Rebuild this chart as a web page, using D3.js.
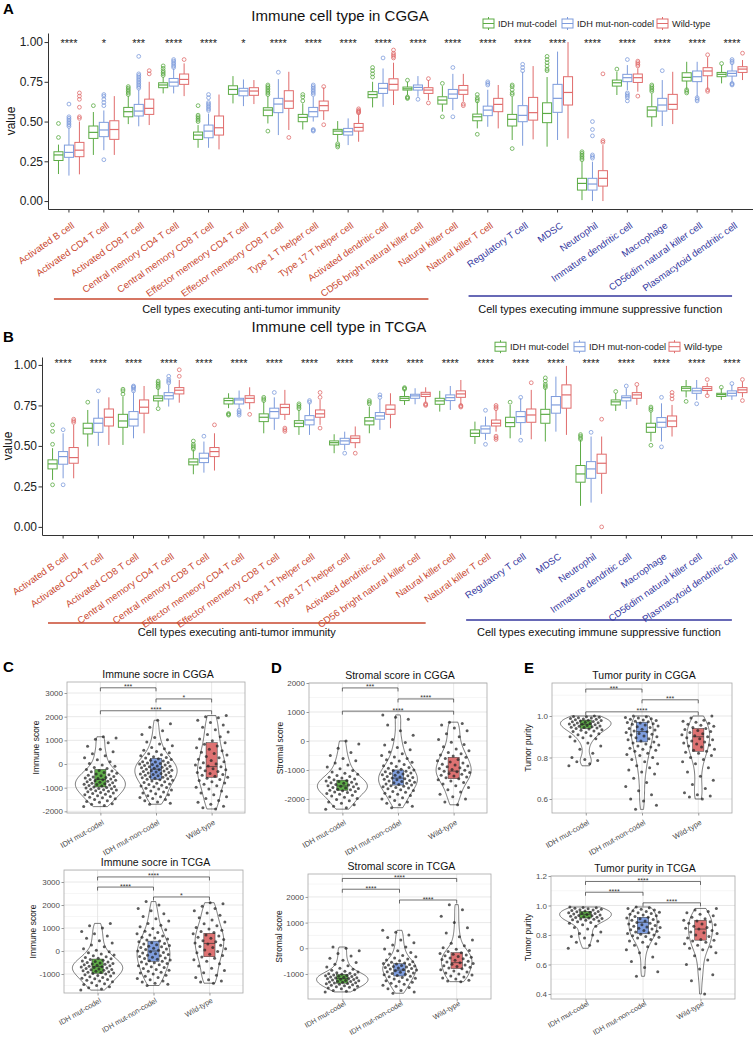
<!DOCTYPE html>
<html><head><meta charset="utf-8">
<script src="https://cdn.jsdelivr.net/npm/d3@7"></script>
<style>body{margin:0;background:#fff} svg{font-family:"Liberation Sans",Arial,sans-serif}</style>
</head><body><svg id="c" width="753" height="1041"></svg>
<script>
// ---------------- DATA ----------------
const cellTypes = ["Activated B cell","Activated CD4 T cell","Activated CD8 T cell","Central memory CD4 T cell","Central memory CD8 T cell","Effector memeory CD4 T cell","Effector memeory CD8 T cell","Type 1 T helper cell","Type 17 T helper cell","Activated dendritic cell","CD56 bright natural killer cell","Natural killer cell","Natural killer T cell","Regulatory T cell","MDSC","Neutrophil","Immature dendritic cell","Macrophage","CD56dim natural killer cell","Plasmacytoid dendritic cell"];
const antiTumorCount = 13;
const groupNames = ["IDH mut-codel","IDH mut-non-codel","Wild-type"];
const valueTicks = [0,0.25,0.5,0.75,1];
const cggaStars = ["****","*","***","****","****","*","****","****","****","****","****","****","****","****","****","****","****","****","****","****"];
const tcgaStars = ["****","****","****","****","****","****","****","****","****","****","****","****","****","****","****","****","****","****","****","****"];

// [lower whisker, Q1, median, Q3, upper whisker]
const cggaCodel = [[0.17,0.255,0.29,0.31,0.355],[0.29,0.394,0.432,0.472,0.56],[0.484,0.53,0.562,0.589,0.66],[0.677,0.713,0.73,0.744,0.78],[0.335,0.388,0.415,0.434,0.478],[0.614,0.671,0.702,0.725,0.786],[0.488,0.537,0.572,0.587,0.66],[0.45,0.499,0.526,0.545,0.614],[0.373,0.419,0.44,0.451,0.503],[0.589,0.65,0.67,0.688,0.75],[0.667,0.698,0.706,0.717,0.75],[0.562,0.61,0.635,0.656,0.723],[0.457,0.505,0.53,0.547,0.625],[0.384,0.472,0.514,0.545,0.656],[0.342,0.493,0.551,0.618,0.78],[0.006,0.069,0.111,0.143,0.247],[0.667,0.723,0.744,0.761,0.813],[0.467,0.53,0.572,0.593,0.677],[0.702,0.755,0.778,0.807,0.876],[0.74,0.782,0.797,0.809,0.855]];
const cggaCodelOut = [[0.40,0.488],[0.60],[0.67,0.68,0.69,0.70,0.71,0.72],[0.79,0.80,0.81,0.82,0.835,0.85],[0.50,0.51,0.52,0.53,0.54,0.60],[],[0.44,0.67,0.68,0.69,0.70,0.71,0.72,0.73],[0.63,0.655,0.67],[0.34,0.35,0.36],[0.78,0.80,0.82,0.84],[0.645,0.65,0.655,0.76],[0.53,0.74],[0.42,0.63,0.64,0.65,0.67],[0.33,0.67,0.68,0.70,0.72,0.73],[0.82,0.83,0.85,0.87,0.89,0.91],[0.26,0.27,0.28,0.29,0.30,0.31],[0.83],[0.69,0.70,0.71,0.72,0.73],[0.68,0.69,0.70],[0.865]];
const cggaNonCodel = [[0.16,0.275,0.306,0.352,0.46],[0.32,0.405,0.447,0.495,0.57],[0.47,0.535,0.566,0.608,0.70],[0.677,0.723,0.748,0.771,0.834],[0.335,0.398,0.44,0.478,0.55],[0.597,0.662,0.692,0.709,0.765],[0.415,0.556,0.61,0.646,0.767],[0.50,0.53,0.562,0.589,0.656],[0.352,0.415,0.436,0.457,0.52],[0.593,0.677,0.709,0.74,0.834],[0.656,0.698,0.715,0.73,0.786],[0.572,0.646,0.673,0.702,0.80],[0.467,0.537,0.572,0.597,0.70],[0.348,0.499,0.539,0.60,0.813],[0.384,0.558,0.646,0.734,0.94],[0.0,0.069,0.107,0.143,0.247],[0.698,0.751,0.776,0.797,0.855],[0.472,0.566,0.604,0.646,0.761],[0.656,0.751,0.782,0.818,0.876],[0.75,0.786,0.803,0.818,0.865]];
const cggaNonCodelOut = [[0.47,0.48,0.49,0.50,0.51,0.52,0.53,0.61],[0.26,0.60,0.62,0.64,0.66,0.67],[0.71,0.72,0.73,0.74,0.75,0.76,0.77,0.78,0.79,0.80,0.91],[0.84,0.85,0.86,0.87,0.88,0.89],[0.57,0.58,0.59,0.60,0.61,0.62,0.65,0.67],[],[0.81],[0.44,0.445,0.45,0.67,0.68,0.69,0.70,0.71,0.72,0.73],[],[0.90],[0.64],[0.53,0.84],[0.73,0.74,0.75],[0.82,0.84,0.86],[],[0.27,0.28,0.29,0.41,0.45,0.50],[0.63,0.65,0.66,0.67,0.68,0.89],[0.82],[0.63,0.64,0.65],[0.73,0.735,0.74,0.87,0.88,0.89]];
const cggaWild = [[0.168,0.279,0.32,0.369,0.50],[0.29,0.388,0.45,0.505,0.66],[0.478,0.545,0.583,0.641,0.75],[0.66,0.734,0.765,0.799,0.866],[0.325,0.415,0.461,0.535,0.67],[0.61,0.665,0.692,0.713,0.761],[0.447,0.583,0.629,0.694,0.813],[0.51,0.568,0.60,0.629,0.715],[0.373,0.44,0.463,0.488,0.55],[0.604,0.698,0.734,0.769,0.87],[0.635,0.677,0.698,0.713,0.761],[0.625,0.671,0.698,0.727,0.80],[0.457,0.562,0.608,0.646,0.73],[0.388,0.509,0.556,0.652,0.849],[0.394,0.604,0.683,0.782,1.0],[0.0,0.094,0.143,0.191,0.352],[0.688,0.746,0.776,0.799,0.835],[0.484,0.577,0.608,0.671,0.813],[0.702,0.788,0.818,0.839,0.905],[0.761,0.809,0.83,0.845,0.887]];
const cggaWildOut = [[0.52,0.53,0.59,0.64,0.66,0.68],[],[0.80,0.82],[0.89],[],[],[0.40],[0.48,0.72],[0.555,0.56,0.565,0.57,0.58],[0.90,0.91,0.92,0.93,0.95],[0.617,0.77],[0.60,0.61],[],[],[],[0.37,0.38,0.80],[0.66,0.85,0.86,0.87,0.88],[],[0.69,0.70,0.92],[0.93]];

const tcgaCodel = [[0.29,0.358,0.389,0.414,0.486],[0.496,0.574,0.609,0.64,0.722],[0.506,0.615,0.654,0.695,0.805],[0.743,0.778,0.794,0.809,0.856],[0.325,0.383,0.401,0.42,0.475],[0.733,0.759,0.78,0.794,0.825],[0.578,0.65,0.677,0.698,0.774],[0.568,0.619,0.64,0.656,0.722],[0.455,0.506,0.52,0.531,0.572],[0.578,0.63,0.654,0.675,0.743],[0.753,0.78,0.794,0.805,0.846],[0.712,0.757,0.778,0.794,0.84],[0.512,0.558,0.578,0.599,0.65],[0.547,0.619,0.644,0.677,0.753],[0.527,0.64,0.695,0.726,0.856],[0.13,0.276,0.327,0.379,0.537],[0.716,0.753,0.772,0.784,0.825],[0.527,0.584,0.615,0.64,0.712],[0.80,0.84,0.856,0.866,0.907],[0.784,0.805,0.817,0.825,0.856]];
const tcgaCodelOut = [[0.26,0.51,0.59,0.63],[0.77],[0.82,0.84,0.85],[0.73,0.86,0.87,0.88,0.89,0.90],[0.48,0.49,0.50,0.51,0.53],[0.69,0.695,0.70],[0.78,0.79,0.80],[0.73,0.74,0.75,0.76],[],[0.76,0.77,0.78],[0.85,0.855,0.86],[],[],[0.77],[0.86,0.87,0.88,0.90,0.92],[0.54,0.55,0.56,0.57],[0.836],[0.504,0.72,0.73,0.74],[0.775],[0.862]];
const tcgaNonCodel = [[0.30,0.387,0.434,0.465,0.578],[0.50,0.584,0.64,0.671,0.788],[0.547,0.623,0.665,0.712,0.83],[0.743,0.79,0.81,0.829,0.877],[0.335,0.397,0.424,0.455,0.527],[0.733,0.759,0.784,0.794,0.842],[0.599,0.671,0.712,0.733,0.80],[0.568,0.63,0.66,0.687,0.763],[0.475,0.51,0.531,0.547,0.588],[0.599,0.665,0.685,0.706,0.79],[0.757,0.794,0.809,0.819,0.856],[0.722,0.78,0.798,0.815,0.87],[0.537,0.578,0.605,0.623,0.681],[0.568,0.644,0.681,0.712,0.794],[0.588,0.702,0.753,0.805,0.928],[0.15,0.30,0.358,0.403,0.558],[0.728,0.778,0.798,0.809,0.856],[0.527,0.615,0.646,0.675,0.763],[0.784,0.825,0.84,0.856,0.907],[0.784,0.809,0.825,0.84,0.877]];
const tcgaNonCodelOut = [[0.26,0.60],[0.84],[0.84,0.85,0.86,0.865,0.87],[0.89,0.90,0.91,0.93],[0.56],[0.69,0.70,0.71,0.72],[0.83],[0.77,0.78],[0.455],[0.80,0.815],[],[],[0.51,0.72],[0.535,0.80],[],[0.584],[0.87],[0.494,0.80],[0.76],[0.885]];
const tcgaWild = [[0.30,0.393,0.428,0.49,0.63],[0.506,0.623,0.677,0.728,0.80],[0.578,0.702,0.739,0.784,0.87],[0.767,0.821,0.844,0.86,0.907],[0.348,0.434,0.465,0.49,0.578],[0.726,0.767,0.794,0.81,0.862],[0.66,0.695,0.737,0.757,0.846],[0.63,0.677,0.698,0.722,0.784],[0.486,0.52,0.547,0.562,0.62],[0.609,0.695,0.726,0.753,0.825],[0.767,0.805,0.819,0.831,0.862],[0.753,0.80,0.821,0.84,0.907],[0.588,0.623,0.64,0.66,0.722],[0.541,0.646,0.691,0.728,0.846],[0.568,0.733,0.815,0.877,0.994],[0.204,0.331,0.393,0.449,0.558],[0.753,0.794,0.815,0.829,0.87],[0.558,0.619,0.654,0.685,0.753],[0.815,0.842,0.854,0.866,0.89],[0.80,0.829,0.846,0.86,0.897]];
const tcgaWildOut = [[0.645,0.655,0.665],[],[],[0.93,0.97],[0.63],[0.695],[0.59,0.60,0.61],[0.61,0.80,0.83],[0.455],[],[0.75,0.755,0.76],[0.74,0.745,0.75],[0.54,0.55,0.56,0.73,0.74,0.75],[0.89],[],[0.0,0.665],[0.88],[0.79,0.81,0.83],[0.81,0.91],[0.78,0.91]];

// Panels C-E: sample points per group (codel, non-codel, wild-type), box [Q1, median, Q3], significance [label, from, to, level]
const immuneCggaPts = [
 [-1800,-1750,-1700,-1680,-1620,-1580,-1550,-1500,-1470,-1430,-1400,-1370,-1340,-1300,-1280,-1250,-1220,-1200,-1170,-1150,-1130,-1100,-1090,-1070,-1050,-1030,-1010,-990,-970,-950,-930,-910,-890,-870,-850,-830,-810,-790,-770,-750,-730,-710,-690,-670,-650,-630,-610,-590,-570,-550,-530,-500,-480,-450,-420,-390,-360,-330,-300,-270,-230,-190,-150,-100,-40,20,100,180,260,350,430,520,620,750,900,1050,1100,1150],
 [-1700,-1660,-1600,-1550,-1500,-1460,-1420,-1380,-1340,-1300,-1260,-1220,-1180,-1140,-1100,-1060,-1020,-990,-960,-930,-900,-870,-840,-810,-780,-750,-720,-690,-660,-640,-620,-600,-580,-560,-540,-520,-500,-480,-460,-440,-420,-400,-380,-360,-340,-320,-300,-280,-260,-240,-220,-200,-180,-160,-140,-120,-100,-80,-60,-40,-20,0,20,40,60,80,100,130,160,190,220,250,280,310,350,390,430,480,530,580,640,700,770,850,930,1020,1120,1250,1400,1550,1700,1850],
 [-1900,-1850,-1780,-1700,-1620,-1540,-1460,-1380,-1300,-1220,-1140,-1060,-980,-920,-860,-800,-750,-700,-650,-600,-560,-520,-480,-440,-400,-360,-320,-280,-240,-200,-160,-120,-80,-40,0,50,100,150,200,260,320,380,440,500,560,620,690,760,830,900,980,1060,1150,1250,1350,1450,1550,1650,1750,1850,1950,2000,2050]];
const immuneCggaBox = [[-970,-650,-230],[-650,-220,240],[-560,-110,900]];
const immuneCggaSig = [["***",0,1,3220],["*",1,2,2750],["****",0,2,2250]];

const immuneTcgaPts = [
 [-1700,-1650,-1600,-1550,-1500,-1460,-1420,-1380,-1340,-1300,-1270,-1240,-1210,-1180,-1150,-1120,-1090,-1060,-1030,-1000,-980,-960,-940,-920,-900,-880,-860,-840,-820,-800,-780,-760,-740,-720,-700,-680,-660,-640,-620,-600,-580,-560,-540,-520,-500,-480,-460,-430,-400,-370,-340,-310,-280,-250,-210,-170,-130,-80,-30,30,100,180,260,350,450,550,650,750,850,1000,1100,1200],
 [-1500,-1450,-1400,-1350,-1300,-1250,-1200,-1150,-1100,-1050,-1000,-960,-920,-880,-840,-800,-760,-720,-680,-640,-600,-570,-540,-510,-480,-450,-420,-390,-360,-330,-300,-270,-240,-210,-180,-150,-120,-90,-60,-30,0,30,60,90,120,150,180,210,240,270,300,330,360,400,440,480,520,560,600,650,700,750,800,860,920,980,1050,1120,1200,1300,1400,1500,1620,1750,1850,2000,2150],
 [-1400,-1350,-1300,-1250,-1150,-1050,-950,-850,-750,-650,-550,-450,-380,-320,-260,-200,-140,-80,-20,40,100,150,200,250,300,350,400,450,500,550,600,650,700,750,800,850,900,960,1020,1100,1180,1260,1350,1450,1550,1650,1750,1850,1950,2050,2100]];
const immuneTcgaBox = [[-970,-680,-350],[-450,0,430],[-250,330,770]];
const immuneTcgaSig = [["****",0,2,3220],["****",0,1,2780],["*",1,2,2350]];

const stromalCggaPts = [
 [-2350,-2300,-2250,-2200,-2150,-2100,-2060,-2020,-1980,-1940,-1900,-1870,-1840,-1810,-1780,-1760,-1740,-1720,-1700,-1680,-1660,-1640,-1620,-1600,-1580,-1560,-1540,-1520,-1500,-1480,-1460,-1440,-1420,-1400,-1380,-1360,-1340,-1310,-1280,-1250,-1220,-1190,-1150,-1110,-1070,-1020,-960,-900,-830,-760,-680,-600,-500,-400,-250,-100,0],
 [-2300,-2250,-2200,-2150,-2100,-2050,-2000,-1960,-1920,-1880,-1840,-1800,-1770,-1740,-1710,-1680,-1650,-1620,-1600,-1580,-1560,-1540,-1520,-1500,-1480,-1460,-1440,-1420,-1400,-1380,-1360,-1340,-1320,-1300,-1280,-1260,-1240,-1220,-1200,-1180,-1160,-1140,-1120,-1100,-1080,-1060,-1040,-1020,-1000,-970,-940,-910,-880,-850,-810,-770,-730,-690,-650,-600,-550,-500,-440,-380,-300,-220,-140,-50,50,200,350,550,750,820,900],
 [-2200,-2100,-2000,-1920,-1840,-1760,-1680,-1600,-1540,-1480,-1430,-1380,-1340,-1300,-1270,-1240,-1210,-1180,-1150,-1120,-1090,-1060,-1040,-1010,-980,-950,-920,-890,-860,-830,-800,-760,-720,-680,-640,-600,-560,-520,-480,-440,-400,-340,-280,-200,-120,-40,50,150,250,350,450,550,600,650]];
const stromalCggaBox = [[-1700,-1550,-1350],[-1520,-1280,-1000],[-1300,-1040,-560]];
const stromalCggaSig = [["***",0,1,1830],["****",1,2,1450],["****",0,2,1030]];

const stromalTcgaPts = [
 [-1700,-1670,-1640,-1610,-1580,-1550,-1520,-1500,-1480,-1460,-1440,-1420,-1400,-1385,-1370,-1355,-1340,-1325,-1310,-1295,-1280,-1265,-1250,-1235,-1220,-1205,-1190,-1175,-1160,-1145,-1130,-1115,-1100,-1085,-1070,-1055,-1040,-1025,-1010,-990,-970,-950,-920,-890,-860,-820,-780,-730,-680,-620,-550,-470,-390,-300,-200,-100,0,50],
 [-1750,-1700,-1640,-1580,-1530,-1480,-1440,-1400,-1360,-1320,-1290,-1260,-1230,-1200,-1170,-1140,-1110,-1085,-1060,-1035,-1010,-985,-960,-935,-910,-890,-870,-850,-830,-810,-790,-770,-750,-730,-710,-690,-670,-650,-630,-610,-590,-570,-545,-520,-490,-460,-420,-380,-330,-280,-220,-160,-100,-30,50,130,220,320,420,520,620,700],
 [-1300,-1270,-1240,-1200,-1160,-1120,-1080,-1040,-1000,-960,-920,-880,-840,-800,-770,-740,-710,-680,-650,-620,-590,-560,-530,-500,-470,-440,-410,-380,-350,-320,-290,-260,-230,-200,-170,-130,-90,-40,20,100,200,320,450,600,800,1000,1250,1500,1700]];
const stromalTcgaBox = [[-1360,-1180,-1020],[-1080,-850,-600],[-790,-560,-170]];
const stromalTcgaSig = [["****",0,2,2720],["****",0,1,2300],["****",1,2,1880]];

const purityCggaPts = [
 [0.76,0.77,0.78,0.785,0.79,0.8,0.82,0.84,0.855,0.87,0.88,0.89,0.895,0.9,0.905,0.91,0.915,0.92,0.925,0.928,0.931,0.934,0.937,0.94,0.942,0.944,0.946,0.948,0.95,0.952,0.954,0.956,0.958,0.96,0.962,0.964,0.966,0.968,0.97,0.972,0.974,0.976,0.978,0.98,0.982,0.984,0.986,0.988,0.99,0.992,0.994,0.996,0.998,1.0],
 [0.55,0.57,0.59,0.6,0.62,0.64,0.66,0.68,0.7,0.72,0.73,0.74,0.75,0.76,0.77,0.78,0.79,0.8,0.81,0.815,0.82,0.83,0.835,0.84,0.845,0.85,0.855,0.86,0.865,0.87,0.875,0.88,0.885,0.89,0.895,0.9,0.904,0.908,0.912,0.916,0.92,0.924,0.928,0.932,0.936,0.94,0.944,0.948,0.952,0.956,0.96,0.963,0.966,0.969,0.972,0.975,0.978,0.981,0.984,0.987,0.99,0.993,0.996,1.0],
 [0.6,0.61,0.615,0.62,0.63,0.65,0.67,0.69,0.71,0.73,0.75,0.77,0.78,0.79,0.8,0.81,0.82,0.825,0.83,0.835,0.84,0.85,0.855,0.86,0.865,0.87,0.875,0.88,0.885,0.89,0.895,0.9,0.905,0.91,0.915,0.92,0.925,0.93,0.935,0.94,0.945,0.95,0.955,0.96,0.965,0.97,0.975,0.98,0.99,1.0]];
const purityCggaBox = [[0.94,0.96,0.98],[0.875,0.925,0.97],[0.83,0.90,0.94]];
const purityCggaSig = [["***",0,1,1.13],["***",1,2,1.078],["****",0,2,1.02]];

const purityTcgaPts = [
 [0.71,0.73,0.75,0.76,0.78,0.79,0.8,0.81,0.82,0.84,0.85,0.86,0.87,0.88,0.885,0.89,0.895,0.9,0.903,0.906,0.909,0.912,0.915,0.918,0.921,0.924,0.927,0.93,0.933,0.936,0.939,0.942,0.945,0.948,0.951,0.954,0.957,0.96,0.963,0.966,0.969,0.972,0.975,0.978,0.981,0.984,0.987,0.99],
 [0.52,0.55,0.58,0.62,0.65,0.68,0.7,0.72,0.73,0.74,0.75,0.76,0.77,0.78,0.785,0.79,0.795,0.8,0.805,0.81,0.815,0.82,0.825,0.83,0.835,0.84,0.845,0.85,0.855,0.86,0.865,0.87,0.875,0.88,0.885,0.89,0.895,0.9,0.905,0.91,0.915,0.92,0.925,0.93,0.935,0.94,0.945,0.95,0.955,0.96,0.965,0.97,0.975,0.98,0.985,0.99],
 [0.4,0.49,0.53,0.57,0.6,0.63,0.66,0.68,0.7,0.71,0.72,0.73,0.74,0.75,0.76,0.765,0.77,0.78,0.79,0.8,0.81,0.815,0.82,0.83,0.84,0.845,0.85,0.86,0.87,0.875,0.88,0.89,0.895,0.9,0.91,0.92,0.93,0.94,0.95,0.96,0.97,0.98]];
const purityTcgaBox = [[0.915,0.94,0.96],[0.81,0.886,0.92],[0.765,0.84,0.90]];
const purityTcgaSig = [["****",0,2,1.163],["****",0,1,1.09],["****",1,2,1.018]];

// ---------------- STYLE ----------------
const FONT = '"Liberation Sans", Arial, sans-serif';
const lineCols = ["#5CAB45","#7E9CDC","#E06C6C"];
const fillCols = ["#5FAE48","#7F9EDF","#DE7272"];
const redLab = "#C9482F", blueLab = "#34379E";
const svg = d3.select("#c");

// ---------------- PANELS A/B ----------------
function boxPanel(p){
  const g = svg.append("g");
  const x = d3.scaleBand().domain(cellTypes).range([p.x0, p.x1]).paddingInner(0).paddingOuter(0.1);
  const y = d3.scaleLinear().domain(p.domain).range([p.yb, p.yt]);
  const step = x.step(), bw = step * 0.26;
  const cx = (ci, gi) => x(cellTypes[ci]) + step / 2 + (gi - 1) * step * 0.3;

  g.append("text").attr("x", 3).attr("y", p.letterY).attr("font-size", 15).attr("font-weight", "bold").text(p.letter);
  g.append("text").attr("x", p.titleX).attr("y", p.titleY).attr("text-anchor", "middle").attr("font-size", 15).attr("fill", "#111").text(p.title);

  const ya = g.append("g").attr("transform", `translate(${p.x0},0)`)
    .call(d3.axisLeft(y).tickValues(valueTicks).tickFormat(d3.format(".2f")).tickSize(3.5).tickSizeOuter(0).tickPadding(1.5));
  ya.selectAll("text").attr("font-size", 12).attr("fill", "#222").attr("font-family", FONT);
  ya.selectAll("line,path").attr("stroke", "#333");
  const xa = g.append("g").attr("transform", `translate(0,${p.yb})`)
    .call(d3.axisBottom(x).tickFormat("").tickSize(3.5).tickSizeOuter(0));
  xa.selectAll("line,path").attr("stroke", "#333");
  g.append("text").attr("transform", `translate(${p.ylabX},${(p.yb + p.yt) / 2}) rotate(-90)`)
    .attr("text-anchor", "middle").attr("font-size", 12).attr("fill", "#111").text("value");

  p.sets.forEach((set, gi) => {
    const col = lineCols[gi];
    set.box.forEach((s, ci) => {
      const c = cx(ci, gi);
      const [lo, q1, md, q3, hi] = s;
      g.append("line").attr("x1", c).attr("x2", c).attr("y1", y(hi)).attr("y2", y(q3)).attr("stroke", col).attr("stroke-width", 1);
      g.append("line").attr("x1", c).attr("x2", c).attr("y1", y(q1)).attr("y2", y(lo)).attr("stroke", col).attr("stroke-width", 1);
      g.append("rect").attr("x", c - bw / 2).attr("y", y(q3)).attr("width", bw).attr("height", Math.max(0.5, y(q1) - y(q3)))
        .attr("fill", "#fff").attr("stroke", col).attr("stroke-width", 1);
      g.append("line").attr("x1", c - bw / 2).attr("x2", c + bw / 2).attr("y1", y(md)).attr("y2", y(md)).attr("stroke", col).attr("stroke-width", 1.2);
      g.selectAll(null).data(set.out[ci]).join("circle").attr("cx", c).attr("cy", d => y(d)).attr("r", 1.9)
        .attr("fill", "none").attr("stroke", col).attr("stroke-width", 0.8);
    });
  });

  g.selectAll(null).data(p.stars).join("text")
    .attr("x", (d, i) => x(cellTypes[i]) + step / 2).attr("y", p.starY)
    .attr("text-anchor", "middle").attr("font-size", 11).attr("fill", "#222").text(d => d);

  g.selectAll(null).data(cellTypes).join("text")
    .attr("transform", d => `translate(${x(d) + step / 2 + p.lblDx},${p.yb + p.lblDy}) rotate(-35)`)
    .attr("text-anchor", "end").attr("font-size", 9.6).attr("fill", (d, i) => i < antiTumorCount ? redLab : blueLab).text(d => d);

  const xi = d3.scaleLinear().domain([0, cellTypes.length - 1]).range([x(cellTypes[0]) + step / 2, x(cellTypes[cellTypes.length - 1]) + step / 2]);
  const red = [xi(-0.43), xi(10.3)], blue = [xi(11.45), xi(19)];
  g.append("line").attr("x1", red[0]).attr("x2", red[1]).attr("y1", p.redLineY).attr("y2", p.redLineY).attr("stroke", redLab).attr("stroke-width", 1.4);
  g.append("line").attr("x1", blue[0]).attr("x2", blue[1]).attr("y1", p.blueLineY).attr("y2", p.blueLineY).attr("stroke", blueLab).attr("stroke-width", 1.4);
  g.append("text").attr("x", (red[0] + red[1]) / 2).attr("y", p.groupTextY).attr("text-anchor", "middle").attr("font-size", 11).attr("fill", "#111").text("Cell types executing anti-tumor immunity");
  g.append("text").attr("x", (blue[0] + blue[1]) / 2).attr("y", p.groupTextY).attr("text-anchor", "middle").attr("font-size", 11).attr("fill", "#111").text("Cell types executing immune suppressive function");

  const keyOff = [0, 79, 174];
  groupNames.forEach((n, gi) => {
    const kx = p.legX + keyOff[gi], ky = p.legY;
    const lg = g.append("g");
    lg.append("line").attr("x1", kx + 5.5).attr("x2", kx + 5.5).attr("y1", ky - 6.5).attr("y2", ky + 6.5).attr("stroke", lineCols[gi]);
    lg.append("rect").attr("x", kx).attr("y", ky - 4.5).attr("width", 11).attr("height", 9).attr("fill", "#fff").attr("stroke", lineCols[gi]);
    lg.append("line").attr("x1", kx).attr("x2", kx + 11).attr("y1", ky).attr("y2", ky).attr("stroke", lineCols[gi]);
    lg.append("text").attr("x", kx + 15).attr("y", ky + 3.3).attr("font-size", 9.2).attr("fill", "#222").text(n);
  });
}

boxPanel({letter: "A", letterY: 14, title: "Immune cell type in CGGA", titleX: 340, titleY: 21,
  x0: 48, x1: 753, yb: 209, yt: 33, domain: [-0.05, 1.057], ylabX: 15,
  sets: [{box: cggaCodel, out: cggaCodelOut}, {box: cggaNonCodel, out: cggaNonCodelOut}, {box: cggaWild, out: cggaWildOut}],
  stars: cggaStars, starY: 46.5, lblDx: 6, lblDy: 18, redLineY: 299, blueLineY: 296, groupTextY: 313,
  legX: 483, legY: 23.5});
boxPanel({letter: "B", letterY: 342, title: "Immune cell type in TCGA", titleX: 339, titleY: 332,
  x0: 42, x1: 753, yb: 535, yt: 357, domain: [-0.05, 1.049], ylabX: 12,
  sets: [{box: tcgaCodel, out: tcgaCodelOut}, {box: tcgaNonCodel, out: tcgaNonCodelOut}, {box: tcgaWild, out: tcgaWildOut}],
  stars: tcgaStars, starY: 366.5, lblDx: 6, lblDy: 23, redLineY: 623, blueLineY: 620, groupTextY: 636,
  legX: 495, legY: 346.7});

// ---------------- PANELS C-E ----------------
function kde(vals, n) {
  const s = vals.slice().sort(d3.ascending);
  const sd = d3.deviation(s), iqr = d3.quantile(s, 0.75) - d3.quantile(s, 0.25);
  const bw = 0.9 * Math.min(sd, iqr / 1.34) * Math.pow(s.length, -0.2);
  const lo = s[0], hi = s[s.length - 1];
  return d3.range(n + 1).map(i => {
    const v = lo + (hi - lo) * i / n;
    return [v, d3.mean(s, d => Math.exp(-0.5 * ((v - d) / bw) ** 2)) / (bw * Math.sqrt(2 * Math.PI))];
  });
}

function violinPanel(p) {
  const g = svg.append("g");
  const x = d3.scalePoint().domain(groupNames).range([p.x0, p.x1]).padding(0.6);
  const y = d3.scaleLinear().domain(p.domain).range([p.y1, p.y0]);
  const step = x.step();

  if (p.letter) g.append("text").attr("x", p.letterX).attr("y", p.y0 - 10).attr("font-size", 15).attr("font-weight", "bold").text(p.letter);
  g.append("text").attr("x", (p.x0 + p.x1) / 2 + 2).attr("y", p.y0 - 4.5).attr("text-anchor", "middle").attr("font-size", 10.5).attr("fill", "#111").text(p.title);

  const half = (p.ticks[1] - p.ticks[0]) / 2;
  const minor = [p.ticks[0] - half].concat(p.ticks.map(t => t + half)).filter(v => v > p.domain[0] && v < p.domain[1]);
  g.selectAll(null).data(minor).join("line").attr("x1", p.x0).attr("x2", p.x1).attr("y1", d => y(d)).attr("y2", d => y(d)).attr("stroke", "#f0f0f0").attr("stroke-width", 0.6);
  g.selectAll(null).data(p.ticks).join("line").attr("x1", p.x0).attr("x2", p.x1).attr("y1", d => y(d)).attr("y2", d => y(d)).attr("stroke", "#e2e2e2").attr("stroke-width", 0.8);
  g.selectAll(null).data(groupNames).join("line").attr("x1", d => x(d)).attr("x2", d => x(d)).attr("y1", p.y0).attr("y2", p.y1).attr("stroke", "#e2e2e2").attr("stroke-width", 0.8);

  const dens = p.pts.map(v => kde(v, 80));
  const maxD = d3.max(dens, d => d3.max(d, e => e[1]));
  const w = d3.scaleLinear().domain([0, maxD]).range([0, 0.45 * step]);
  dens.forEach((d, gi) => {
    const c = x(groupNames[gi]);
    const area = d3.area().y(e => y(e[0])).x0(e => c - w(e[1])).x1(e => c + w(e[1])).curve(d3.curveBasis);
    g.append("path").attr("d", area(d)).attr("fill", "none").attr("stroke", "#222").attr("stroke-width", 0.6);
  });
  p.box.forEach((b, gi) => {
    const c = x(groupNames[gi]), bw = step * 0.2;
    g.append("rect").attr("x", c - bw / 2).attr("y", y(b[2])).attr("width", bw).attr("height", y(b[0]) - y(b[2]))
      .attr("fill", fillCols[gi]).attr("stroke", "#333").attr("stroke-width", 0.5);
    g.append("line").attr("x1", c - bw / 2).attr("x2", c + bw / 2).attr("y1", y(b[1])).attr("y2", y(b[1])).attr("stroke", "#333").attr("stroke-width", 0.7);
  });
  p.pts.forEach((vals, gi) => {
    const c = x(groupNames[gi]);
    g.selectAll(null).data(vals).join("circle")
      .attr("cx", (d, i) => c + (((i * 0.6180339887 + gi * 0.31) % 1) - 0.5) * 2 * 0.3 * step)
      .attr("cy", d => y(d)).attr("r", 1.5).attr("fill", "#262626").attr("fill-opacity", 0.75);
  });
  g.append("rect").attr("x", p.x0).attr("y", p.y0).attr("width", p.x1 - p.x0).attr("height", p.y1 - p.y0).attr("fill", "none").attr("stroke", "#a8a8a8").attr("stroke-width", 0.8);
  p.sig.forEach(([lab, a, b, lev]) => {
    const xa = x(groupNames[a]), xb = x(groupNames[b]), yl = y(lev);
    g.append("path").attr("d", `M${xa},${yl + 3.5}V${yl}H${xb}V${yl + 3.5}`).attr("fill", "none").attr("stroke", "#333").attr("stroke-width", 0.7);
    g.append("text").attr("x", (xa + xb) / 2).attr("y", yl + 1.5).attr("text-anchor", "middle").attr("font-size", 7).attr("fill", "#333").text(lab);
  });
  const ya = g.append("g").attr("transform", `translate(${p.x0},0)`)
    .call(d3.axisLeft(y).tickValues(p.ticks).tickFormat(p.fmt).tickSize(2.5).tickSizeOuter(0).tickPadding(1.5));
  ya.select(".domain").remove();
  ya.selectAll("line").attr("stroke", "#999");
  ya.selectAll("text").attr("font-size", 8).attr("fill", "#4d4d4d").attr("font-family", FONT);
  const xa = g.append("g").attr("transform", `translate(0,${p.y1})`).call(d3.axisBottom(x).tickFormat("").tickSize(2.5).tickSizeOuter(0));
  xa.select(".domain").remove();
  xa.selectAll("line").attr("stroke", "#999");
  g.selectAll(null).data(groupNames).join("text")
    .attr("transform", d => `translate(${x(d) + 4},${p.y1 + p.lblOff}) rotate(-30)`)
    .attr("text-anchor", "end").attr("font-size", p.lblSize).attr("fill", "#4d4d4d").text(d => d);
  g.append("text").attr("transform", `translate(${p.x0 - p.ylabOff},${(p.y0 + p.y1) / 2}) rotate(-90)`)
    .attr("text-anchor", "middle").attr("font-size", 8.5).attr("fill", "#222").text(p.ylab);
}

const intFmt = d => String(d);
const decFmt = d3.format(".1f");
violinPanel({letter: "C", letterX: 3, title: "Immune socre in CGGA", ylab: "Immune score", ylabOff: 28, x0: 67, x1: 245, y0: 682, y1: 813, lblOff: 11, lblSize: 7.6,
  domain: [-2070, 3465], ticks: [-2000, -1000, 0, 1000, 2000, 3000], fmt: intFmt, pts: immuneCggaPts, box: immuneCggaBox, sig: immuneCggaSig});
violinPanel({title: "Immune socre in TCGA", ylab: "Immune score", ylabOff: 28, x0: 64, x1: 243, y0: 870, y1: 993, lblOff: 9, lblSize: 7.4,
  domain: [-1826, 3522], ticks: [-1000, 0, 1000, 2000, 3000], fmt: intFmt, pts: immuneTcgaPts, box: immuneTcgaBox, sig: immuneTcgaSig});
violinPanel({letter: "D", letterX: 271, title: "Stromal score in CGGA", ylab: "Stromal score", ylabOff: 26, x0: 309, x1: 487, y0: 683, y1: 813, lblOff: 11, lblSize: 7.6,
  domain: [-2483, 2000], ticks: [-2000, -1000, 0, 1000, 2000], fmt: intFmt, pts: stromalCggaPts, box: stromalCggaBox, sig: stromalCggaSig});
violinPanel({title: "Stromal score in TCGA", ylab: "Stromal score", ylabOff: 26, x0: 308, x1: 491, y0: 874, y1: 999, lblOff: 6, lblSize: 7.2,
  domain: [-1975, 2893], ticks: [-1000, 0, 1000, 2000], fmt: intFmt, pts: stromalTcgaPts, box: stromalTcgaBox, sig: stromalTcgaSig});
violinPanel({letter: "E", letterX: 524, title: "Tumor purity in CGGA", ylab: "Tumor purity", ylabOff: 21, x0: 552, x1: 732, y0: 683, y1: 813, lblOff: 11, lblSize: 7.6,
  domain: [0.5325, 1.159], ticks: [0.6, 0.8, 1.0], fmt: decFmt, pts: purityCggaPts, box: purityCggaBox, sig: purityCggaSig});
violinPanel({title: "Tumor purity in TCGA", ylab: "Tumor purity", ylabOff: 20, x0: 551, x1: 735, y0: 876, y1: 999, lblOff: 6, lblSize: 7.2,
  domain: [0.366, 1.2], ticks: [0.4, 0.6, 0.8, 1.0, 1.2], fmt: decFmt, pts: purityTcgaPts, box: purityTcgaBox, sig: purityTcgaSig});
</script></body></html>
